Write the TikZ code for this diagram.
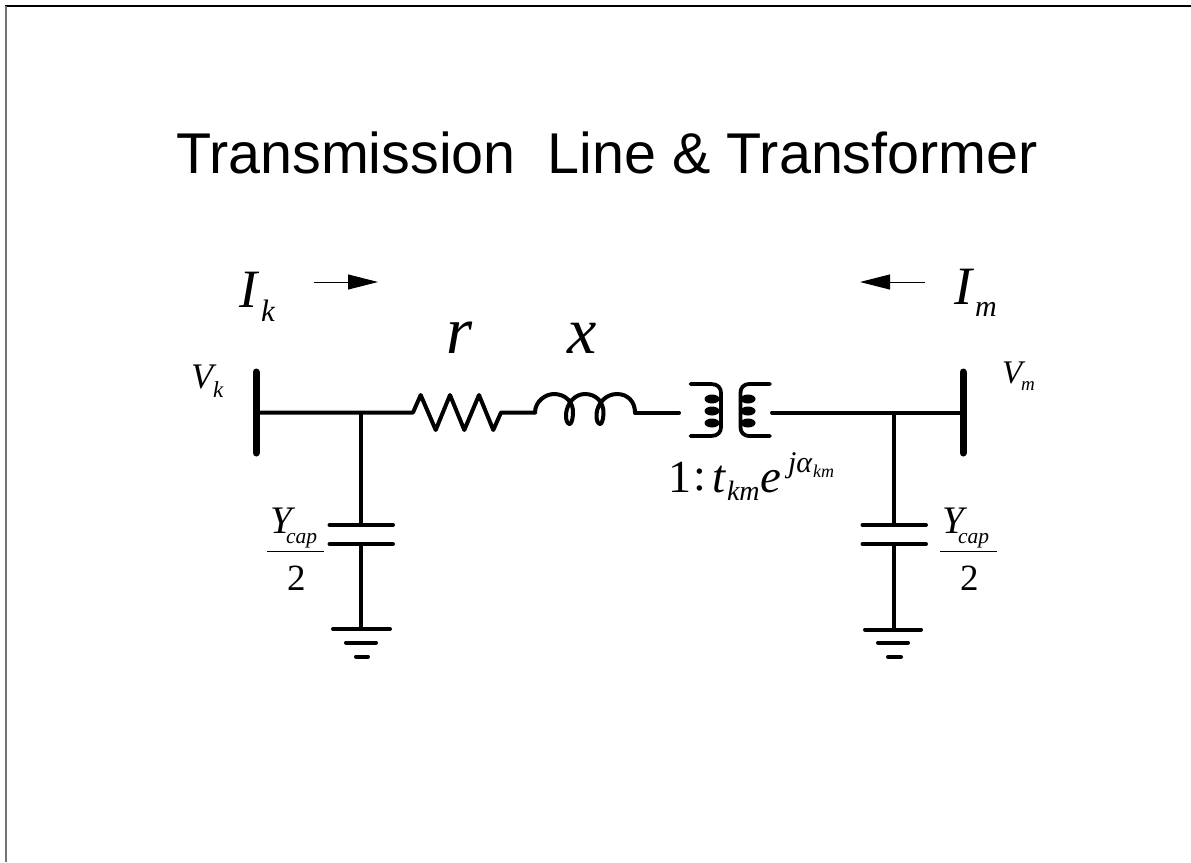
\documentclass[tikz,border=0pt]{standalone}
\usepackage{fontspec}
\setmainfont{Liberation Serif}
\newfontfamily\titlefont{Liberation Sans}
\usetikzlibrary{arrows.meta}
\tikzset{
  wire/.style={line width=4pt,line cap=round,line join=round},
  coil/.style={line width=3.8pt,line cap=round,line join=round},
  busbar/.style={line width=7pt,line cap=round},
  thin arrow/.style={line width=1pt,-{Triangle[length=30pt,width=15pt]}},
  lbl/.style={inner sep=0pt,outer sep=0pt,anchor=base west,font=\itshape},
}
\newcommand{\mylbl}[2]{\fontsize{#1}{#1}\selectfont #2}
\newcommand{\ycap}{\mylbl{39}{Y}\kern-5.5pt\raisebox{-10pt}{\mylbl{21.5}{cap}}}
\begin{document}
\begin{tikzpicture}[x=1pt,y=-1pt]
\useasboundingbox (0,0) rectangle (1191,862);
\coordinate (TL) at (6,6); \coordinate (TR) at (1191,6);
\coordinate (TL2) at (5,6);
\coordinate (BL) at (6,862);
\draw[line width=1.6pt] (TL2) -- (TR);
\draw[line width=2pt,black!55] (BL) -- (TL);
\node[inner sep=0pt,anchor=base west] (title) at (176,173) {\titlefont\fontsize{57.5}{57.5}\selectfont Transmission\ \ Line \& Transformer};
% buses
\coordinate (bk1) at (256,372); \coordinate (bk2) at (256,453);
\coordinate (bm1) at (963,372); \coordinate (bm2) at (963,453);
\coordinate (k) at (256,412.5); \coordinate (m) at (963,412.5);
\coordinate (jk) at (361,412.5); \coordinate (jm) at (894,412.5);
\draw[busbar] (bk1) -- (bk2);
\draw[busbar] (bm1) -- (bm2);
% series branch
\coordinate (r1) at (413,412.5); \coordinate (r2) at (501,412.5);
\coordinate (x1) at (535,412.5); \coordinate (x2) at (635,412.5);
\coordinate (t1) at (679,412.5); \coordinate (t2) at (772,412.5);
\draw[wire] (k) -- (jk) -- (r1) -- (420.7,395) -- (435.7,430) -- (450,395) -- (464.3,430) -- (479,395) -- (493.3,430) -- (r2) -- (x1);
\draw[wire] (x1) .. controls (535,401) and (546,394) .. (554,394)
  .. controls (565,394) and (574,402) .. (573,414)
  .. controls (572.5,421) and (571,424) .. (569.5,424)
  .. controls (567.5,424) and (565.5,420) .. (566,414)
  .. controls (567,403) and (575,394) .. (585,394)
  .. controls (596,394) and (604,402) .. (603.5,414)
  .. controls (603,421) and (601.5,424) .. (600,424)
  .. controls (598,424) and (596,420) .. (596.5,414)
  .. controls (597.5,403) and (606,394) .. (617,394)
  .. controls (628,394) and (635,402) .. (x2);
\draw[wire] (x2) -- (t1);
\draw[wire] (t2) -- (m);
% transformer
\coordinate (ta) at (690.5,384); \coordinate (tb) at (690.5,436);
\coordinate (tc) at (770,384); \coordinate (td) at (770,436);
\draw[coil] (ta) -- (711,384) .. controls (718,384) and (721,388) .. (721,393) -- (721,427) .. controls (721,432) and (718,436) .. (711,436) -- (tb);
\draw[coil] (tc) -- (750,384) .. controls (743,384) and (740.5,388) .. (740.5,393) -- (740.5,427) .. controls (740.5,432) and (743,436) .. (750,436) -- (td);
\foreach \y in {399,411,423}{
  \fill (712,\y) ellipse (7.5pt and 4.5pt);
  \fill (748,\y) ellipse (7.5pt and 4.5pt);
}
% shunt k
\coordinate (ck1) at (361,525); \coordinate (ck2) at (361,544);
\coordinate (gk) at (361,629);
\draw[wire,line cap=butt] (jk) -- (ck1);
\draw[wire] (329.5,525) -- (393,525);
\draw[wire] (329.5,544) -- (393,544);
\draw[wire,line cap=butt] (ck2) -- (gk);
\draw[wire] (333,629) -- (390,629);
\draw[wire] (346,642.5) -- (376,642.5);
\draw[wire] (356,656.5) -- (368,656.5);
% shunt m
\coordinate (cm1) at (894,525); \coordinate (cm2) at (894,544);
\coordinate (gm) at (894,629.5);
\draw[wire,line cap=butt] (jm) -- (cm1);
\draw[wire] (862.5,525) -- (926,525);
\draw[wire] (862.5,544) -- (926,544);
\draw[wire,line cap=butt] (cm2) -- (gm);
\draw[wire] (865,629.5) -- (921,629.5);
\draw[wire] (878,642.5) -- (908,642.5);
\draw[wire] (888,657) -- (901,657);
% arrows
\coordinate (ak1) at (314,282); \coordinate (ak2) at (378,282);
\coordinate (am1) at (925,282); \coordinate (am2) at (860,282);
\draw[thin arrow] (ak1) -- (ak2);
\draw[thin arrow] (am1) -- (am2);
% labels
\node[lbl] (Ik) at (239,307) {\mylbl{54}{I}};
\node[lbl] (Iks) at (261,321) {\mylbl{31}{k}};
\node[lbl] (Im) at (954,304) {\mylbl{54}{I}};
\node[lbl] (Ims) at (975,316) {\mylbl{30}{m}};
\node[lbl] (r) at (446,353) {\mylbl{67}{r}};
\node[lbl] (x) at (567,353) {\mylbl{66}{x}};
\node[lbl] (Vk) at (191,388) {\mylbl{36}{V}};
\node[lbl] (Vks) at (213,397) {\mylbl{23}{k}};
\node[lbl] (Vm) at (1002,383) {\mylbl{33}{V}};
\node[lbl] (Vms) at (1021,390) {\mylbl{19}{m}};
% frac left
\node[lbl] (Yk) at (270,533) {\ycap};
\coordinate (fk1) at (267,551); \coordinate (fk2) at (324,551);
\draw[line width=1pt] (fk1) -- (fk2);
\node[lbl,font=\upshape] (tk) at (287,590) {\mylbl{37}{2}};
% frac right
\node[lbl] (Ym) at (942,533) {\ycap};
\coordinate (fm1) at (940,551); \coordinate (fm2) at (997,551);
\draw[line width=1pt] (fm1) -- (fm2);
\node[lbl,font=\upshape] (tm) at (960,590) {\mylbl{37}{2}};
% ratio
\node[lbl,font=\upshape] (one) at (668,492) {\mylbl{46}{1}};
\node[lbl,font=\upshape] (colon) at (693,490) {\mylbl{46}{:}};
\node[lbl] (t) at (712,492) {\mylbl{47}{t}};
\node[lbl] (km) at (727,500) {\mylbl{28}{km}};
\node[lbl] (e) at (760,492) {\mylbl{47}{e}};
\node[lbl] (ja) at (788,472) {\mylbl{30}{j\symbol{"03B1}}};
\node[lbl] (kms) at (813,477) {\mylbl{18}{km}};
\end{tikzpicture}
\end{document}
